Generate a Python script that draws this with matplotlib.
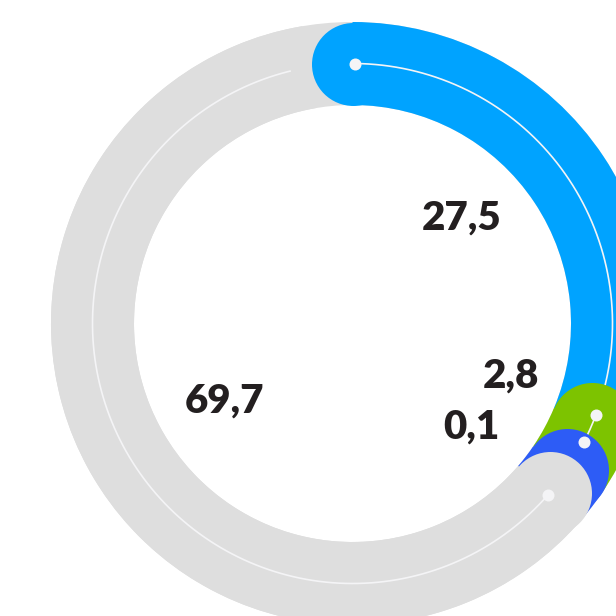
import numpy as np
import matplotlib
matplotlib.use("Agg")
import matplotlib.pyplot as plt

# Shares of the total, in the order they run clockwise from the top
values = [27.5, 2.8, 0.1, 69.7]
labels = ["27,5", "2,8", "0,1", "69,7"]
colors = ["#00a3ff", "#7dc300", "#2d5cf6", "#dedede"]

# Label anchors (baseline centre) in polar coordinates: angle in degrees
# clockwise from the top, radius in ring units
label_theta = [49.5, 112.0, 134.0, 235.3]
label_r = [144.0, 171.0, 165.5, 155.6]

# Ring geometry (radial units equal pixels at 100 dpi)
R_IN, R_OUT = 218.5, 301.5
R_MID = (R_IN + R_OUT) / 2
RMAX = 310.0
DEG_PER_UNIT = 4.1        # angular scale of the segments
MIN_SWEEP = 6.5           # keep very small segments visible
CAP_DEG = np.degrees((R_OUT - R_IN) / 2 / R_MID)
DOT_LEAD = 0.6            # marker dot sits just past the segment start

TRACK = "#dedede"
LINE = "#f4f4f6"
TEXT = "#231f20"

fig = plt.figure(figsize=(6.16, 6.16), dpi=100)
cx, cy = 352.5, 323.5      # ring centre in pixels from top-left
size = 616.0
ax = fig.add_axes([(cx - RMAX) / size, (size - cy - RMAX) / size,
                   2 * RMAX / size, 2 * RMAX / size], projection="polar")
ax.set_theta_zero_location("N")
ax.set_theta_direction(-1)
ax.set_ylim(0, RMAX)
ax.set_axis_off()

# Background track
ax.bar(0, R_OUT - R_IN, width=2 * np.pi, bottom=R_IN, align="edge",
       color=TRACK, linewidth=0, zorder=1)

sweeps = [max(v * DEG_PER_UNIT, MIN_SWEEP) for v in values]
starts = np.concatenate([[0.0], np.cumsum(sweeps)[:-1]])
n = len(values)

cap_area = ((R_OUT - R_IN) * 72 / 100) ** 2   # marker size in pt^2
dot_area = (12 * 72 / 100) ** 2

for i, (v, c) in enumerate(zip(values, colors)):
    s = starts[i]
    e = min(s + sweeps[i], 360 - 1.05 * CAP_DEG)
    nxt = starts[i + 1] if i + 1 < n else 360 + starts[0]
    z = 2 + 4 * i
    # segment body
    ax.bar(np.radians(s), R_OUT - R_IN, width=np.radians(e - s), bottom=R_IN,
           align="edge", color=c, linewidth=0, zorder=z)
    # rounded start cap
    ax.scatter([np.radians(s)], [R_MID], s=cap_area, color=c, linewidths=0,
               zorder=z + 1)
    # marker dot, kept clear of the next segment's cap
    d = min(s + DOT_LEAD, nxt - 1.5 * CAP_DEG)
    le = min(d + v * DEG_PER_UNIT, 360 - 1.5 * CAP_DEG)
    th = np.radians(np.linspace(d, le, 300))
    ax.plot(th, np.full_like(th, R_MID), color=LINE, lw=1.2,
            solid_capstyle="butt", zorder=z + 2)
    ax.scatter([np.radians(d)], [R_MID], s=dot_area, color=LINE,
               linewidths=0, zorder=z + 3)

for lab, t, r in zip(labels, label_theta, label_r):
    ax.text(np.radians(t), r, lab, ha="center", va="baseline",
            fontsize=29, fontweight="heavy", family=["Lato", "DejaVu Sans"],
            color=TEXT, zorder=50)

fig.savefig("out.png", dpi=100)
